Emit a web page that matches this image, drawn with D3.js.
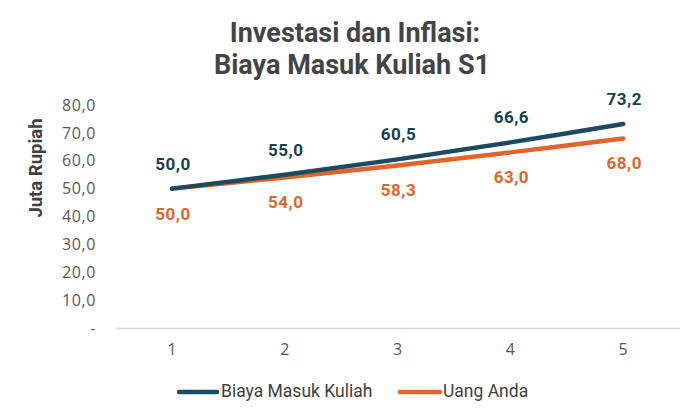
<!DOCTYPE html>
<html><head><meta charset="utf-8">
<script src="https://cdn.jsdelivr.net/npm/d3@7"></script>
<style>body{margin:0;background:#fff}svg{display:block}</style>
</head><body>
<svg id="c" width="700" height="420"></svg>
<script>
const categories = ["1","2","3","4","5"];
const biaya = [50.0, 55.0, 60.5, 66.6, 73.2];
const uang = [50.0, 54.0, 58.3, 63.0, 68.0];
const yTicks = [0,10,20,30,40,50,60,70,80];
const seriesNames = ["Biaya Masuk Kuliah","Uang Anda"];
const colors = ["#1c4b61","#e0652a"];
const labelColors = ["#163f4f","#e0652a"];

const svg = d3.select("#c");
const font = "Roboto, 'Open Sans', sans-serif";
const font2 = "'Open Sans', Roboto, sans-serif";
const x = d3.scaleBand().domain(categories).range([115.6, 679.6]);
const y = d3.scaleLinear().domain([0,80]).range([328,105]);
const fmt = v => v === 0 ? "-" : d3.format(".1f")(v).replace(".", ",");

// title
svg.append("text").attr("x",355).attr("y",42).attr("text-anchor","middle")
  .attr("font-family",font).attr("font-weight","bold").attr("font-size",27).attr("fill","#444")
  .text("Investasi dan Inflasi:");
svg.append("text").attr("x",352).attr("y",73.5).attr("text-anchor","middle")
  .attr("font-family",font).attr("font-weight","bold").attr("font-size",27).attr("fill","#444")
  .text("Biaya Masuk Kuliah S1");

// y axis
const ya = svg.append("g").attr("transform","translate(96,0)")
  .call(d3.axisLeft(y).tickValues(yTicks).tickFormat(fmt).tickSize(0).tickPadding(0));
ya.select(".domain").remove();
ya.selectAll("text").attr("font-family",font2).attr("font-size",16).attr("letter-spacing",0.6).attr("fill","#595959");

// x axis
const xa = svg.append("g").attr("transform","translate(0,328)")
  .call(d3.axisBottom(x).tickSize(0).tickPadding(16));
xa.select(".domain").attr("stroke","#d9d9d9").attr("stroke-width",1.3);
xa.selectAll("text").attr("font-family",font2).attr("font-size",16).attr("fill","#595959");

// y title
svg.append("text").attr("transform","translate(42,168) rotate(-90)").attr("text-anchor","middle")
  .attr("font-family",font).attr("font-weight","bold").attr("font-size",18.5).attr("fill","#404040")
  .text("Juta Rupiah");

const cx = c => x(c) + x.bandwidth()/2;
const line = d3.line().x((d,i)=>cx(categories[i])).y(d=>y(d)).curve(d3.curveCatmullRom.alpha(0.5));
[uang, biaya].forEach((s,k)=>{
  const idx = k===0?1:0;
  svg.append("path").datum(s).attr("d",line).attr("fill","none")
    .attr("stroke",colors[idx]).attr("stroke-width",4.5).attr("stroke-linecap","round");
});

// labels
svg.append("g").selectAll("text").data(biaya).join("text")
  .attr("x",(d,i)=>cx(categories[i])+1).attr("y",d=>y(d)-19).attr("text-anchor","middle")
  .attr("font-family",font).attr("font-weight","bold").attr("font-size",17).attr("letter-spacing",0.5).attr("fill",labelColors[0])
  .text(fmt);
svg.append("g").selectAll("text").data(uang).join("text")
  .attr("x",(d,i)=>cx(categories[i])+1).attr("y",d=>y(d)+31).attr("text-anchor","middle")
  .attr("font-family",font).attr("font-weight","bold").attr("font-size",17).attr("letter-spacing",0.5).attr("fill",labelColors[1])
  .text(fmt);

// legend
const leg = [{x1:179,x2:217,tx:221},{x1:400,x2:440,tx:443}];
seriesNames.forEach((n,i)=>{
  svg.append("line").attr("x1",leg[i].x1).attr("x2",leg[i].x2).attr("y1",392).attr("y2",392)
    .attr("stroke",colors[i]).attr("stroke-width",4.5).attr("stroke-linecap","round");
  svg.append("text").attr("x",leg[i].tx).attr("y",396.5).attr("font-family",font)
    .attr("font-size",17.5).attr("fill","#404040").text(n);
});
</script>
</body></html>
